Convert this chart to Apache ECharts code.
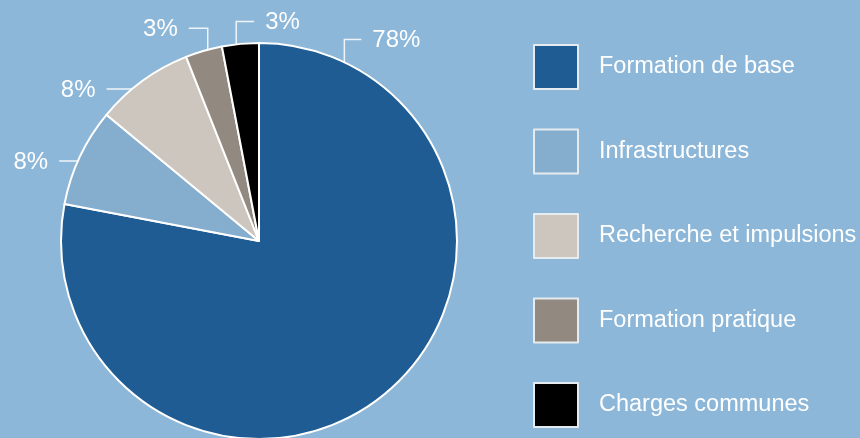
<!DOCTYPE html>
<html>
<head>
<meta charset="utf-8">
<script src="https://cdn.jsdelivr.net/npm/echarts@6/dist/echarts.min.js"></script>
<style>
  html, body { margin: 0; padding: 0; background: #8db7d8; }
  #chart { width: 860px; height: 438px; }
</style>
</head>
<body>
<div id="chart"></div>
<script>
// data
const categories = ['Formation de base', 'Infrastructures', 'Recherche et impulsions', 'Formation pratique', 'Charges communes'];
const shares = [78, 8, 8, 3, 3];
const colors = ['#1e5c93', '#85adcd', '#cdc6bf', '#928a80', '#000000'];

// pie geometry
const cx = 259;
const cy = 241;
const R = 198;

// leader lines: anchor inside slice (angle from top, clockwise), then up by rise, then across by run
const leaders = [
  { angle: 27, radius: 188, rise: 34, run: 17 },
  { angle: 297, radius: 176, rise: 0, run: -43 },
  { angle: 324, radius: 188, rise: 0, run: -42 },
  { angle: 344, radius: 186, rise: 34, run: -19 },
  { angle: 353, radius: 187, rise: 34, run: 18 },
];

const chart = echarts.init(document.getElementById('chart'));

chart.setOption({
  backgroundColor: '#8db7d8',
  animation: false,
  color: colors,
  legend: {
    orient: 'vertical',
    left: 533,
    top: 44,
    padding: 0,
    itemWidth: 44,
    itemHeight: 44,
    itemGap: 38.5,
    icon: 'rect',
    selectedMode: false,
    itemStyle: { borderColor: '#e6ebef', borderWidth: 2 },
    textStyle: {
      color: '#ffffff',
      fontFamily: 'Liberation Sans',
      fontSize: 23.5,
      padding: [0, 0, 0, 16],
    },
    data: categories,
  },
  series: [
    {
      type: 'pie',
      center: [cx, cy],
      radius: R,
      startAngle: 90,
      clockwise: true,
      avoidLabelOverlap: false,
      itemStyle: { borderColor: '#ffffff', borderWidth: 2 },
      emphasis: { disabled: true },
      label: {
        show: true,
        position: 'outside',
        formatter: '{c}%',
        color: '#ffffff',
        fontFamily: 'Liberation Sans',
        fontSize: 24,
      },
      labelLine: {
        show: true,
        length: 10,
        length2: 10,
        lineStyle: { color: 'rgba(255,255,255,0.85)', width: 1.5 },
      },
      labelLayout: function (params) {
        const l = leaders[params.dataIndex];
        const a = (l.angle * Math.PI) / 180;
        const ax = cx + l.radius * Math.sin(a);
        const ay = cy - l.radius * Math.cos(a);
        const by = ay - l.rise;
        const ex = ax + l.run;
        const dir = l.run > 0 ? 1 : -1;
        return {
          x: ex + dir * 11,
          y: by + 1,
          align: dir > 0 ? 'left' : 'right',
          verticalAlign: 'middle',
          labelLinePoints: [[ax, ay], [ax, by], [ex, by]],
        };
      },
      data: categories.map((name, i) => ({ name: name, value: shares[i] })),
    },
  ],
});
</script>
</body>
</html>
